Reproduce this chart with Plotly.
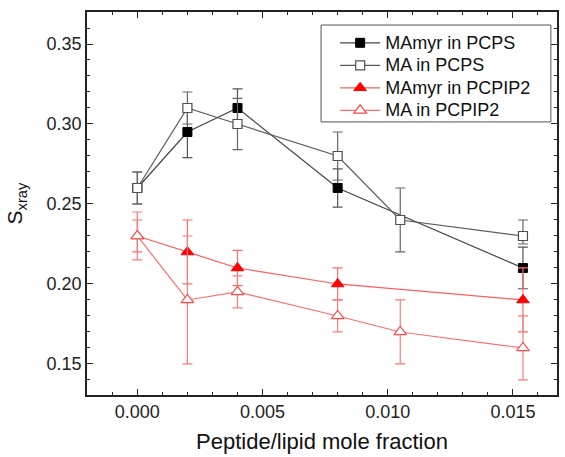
import plotly.graph_objects as go

# Data
x_all = [0.0, 0.002, 0.004, 0.008, 0.0105, 0.0154]
x_myr_ps = [0.0, 0.002, 0.004, 0.008, 0.0154]

myr_ps = [0.26, 0.295, 0.31, 0.26, 0.21]
myr_ps_err = [0.01, 0.016, 0.012, 0.012, 0.013]

ma_ps = [0.26, 0.31, 0.30, 0.28, 0.24, 0.23]
ma_ps_err_plus = [0.01, 0.01, 0.016, 0.015, 0.02, 0.01]
ma_ps_err_minus = [0.01, 0.01, 0.016, 0.015, 0.02, 0.005]

myr_pip = [0.23, 0.22, 0.21, 0.20, 0.19]
x_myr_pip = [0.0, 0.002, 0.004, 0.008, 0.0154]
myr_pip_err = [0.01, 0.02, 0.011, 0.01, 0.02]

ma_pip = [0.23, 0.19, 0.195, 0.18, 0.17, 0.16]
ma_pip_err = [0.015, 0.04, 0.01, 0.01, 0.02, 0.02]

series_names = ["MAmyr in PCPS", "MA in PCPS", "MAmyr in PCPIP2", "MA in PCPIP2"]

FONT = "Arial, Liberation Sans, sans-serif"


def legend_label(s):
    return "<span style='font-size:18px'>" + s + "</span>"


fig = go.Figure()

fig.add_trace(go.Scatter(
    x=x_myr_ps, y=myr_ps, name=legend_label(series_names[0]), mode="lines+markers",
    line=dict(color="#454545", width=1.2),
    marker=dict(symbol="square", size=9, color="black", line=dict(color="black", width=1)),
    error_y=dict(type="data", array=myr_ps_err, color="#555555", thickness=1.2, width=5),
))
fig.add_trace(go.Scatter(
    x=x_all, y=ma_ps, name=legend_label(series_names[1]), mode="lines+markers",
    line=dict(color="#5a5a5a", width=1.2),
    marker=dict(symbol="square", size=9, color="white", line=dict(color="#505050", width=1.2)),
    error_y=dict(type="data", array=ma_ps_err_plus, arrayminus=ma_ps_err_minus,
                 color="#666666", thickness=1.2, width=5),
))
fig.add_trace(go.Scatter(
    x=x_myr_pip, y=myr_pip, name=legend_label(series_names[2]), mode="lines+markers",
    line=dict(color="#ff5c5c", width=1.2),
    marker=dict(symbol="triangle-up", size=11, color="#ff0000", line=dict(color="#ff0000", width=1)),
    error_y=dict(type="data", array=myr_pip_err, color="#ff6a6a", thickness=1.2, width=5),
))
fig.add_trace(go.Scatter(
    x=x_all, y=ma_pip, name=legend_label(series_names[3]), mode="lines+markers",
    line=dict(color="#ff6e6e", width=1.2),
    marker=dict(symbol="triangle-up", size=11, color="white", line=dict(color="#ff4a4a", width=1.2)),
    error_y=dict(type="data", array=ma_pip_err, color="#ff7a7a", thickness=1.2, width=5),
))

axis_common = dict(
    showline=True, linecolor="#222222", linewidth=1.5, mirror="ticks",
    ticks="inside", ticklen=6, tickwidth=1.3, tickcolor="#222222",
    showgrid=False, zeroline=False,
    tickfont=dict(family=FONT, size=18, color="#222222"),
)

fig.update_xaxes(
    range=[-0.00201, 0.01676], tickvals=[0.0, 0.005, 0.01, 0.015],
    ticktext=["0.000", "0.005", "0.010", "0.015"],
    minor=dict(ticks="inside", dtick=0.001, tick0=0, ticklen=3, tickwidth=1, tickcolor="#222222"),
    title=dict(text="Peptide/lipid mole fraction", font=dict(family=FONT, size=22, color="#111111"),
               standoff=12),
    **axis_common,
)
fig.update_yaxes(
    range=[0.1306, 0.37], tickvals=[0.15, 0.20, 0.25, 0.30, 0.35],
    ticktext=["0.15", "0.20", "0.25", "0.30", "0.35"],
    minor=dict(ticks="inside", dtick=0.01, tick0=0.15, ticklen=3, tickwidth=1, tickcolor="#222222"),
    title=dict(text="S<sub>xray</sub>", font=dict(family=FONT, size=21, color="#111111"),
               standoff=18),
    **axis_common,
)

# legend frame
fig.add_shape(type="rect", xref="paper", yref="paper",
              x0=0.498, x1=0.987, y0=0.713, y1=0.966,
              line=dict(color="#555555", width=1), fillcolor="rgba(0,0,0,0)", layer="above")

fig.update_layout(
    width=565, height=457,
    margin=dict(l=87, r=6, t=12, b=62),
    paper_bgcolor="white", plot_bgcolor="white",
    showlegend=True,
    legend=dict(
        x=0.528, y=0.962, xanchor="left", yanchor="top",
        bgcolor="rgba(0,0,0,0)", borderwidth=0,
        font=dict(family=FONT, size=15, color="#111111"),
        tracegroupgap=0, itemwidth=40,
    ),
)

fig.write_html("out.html")
